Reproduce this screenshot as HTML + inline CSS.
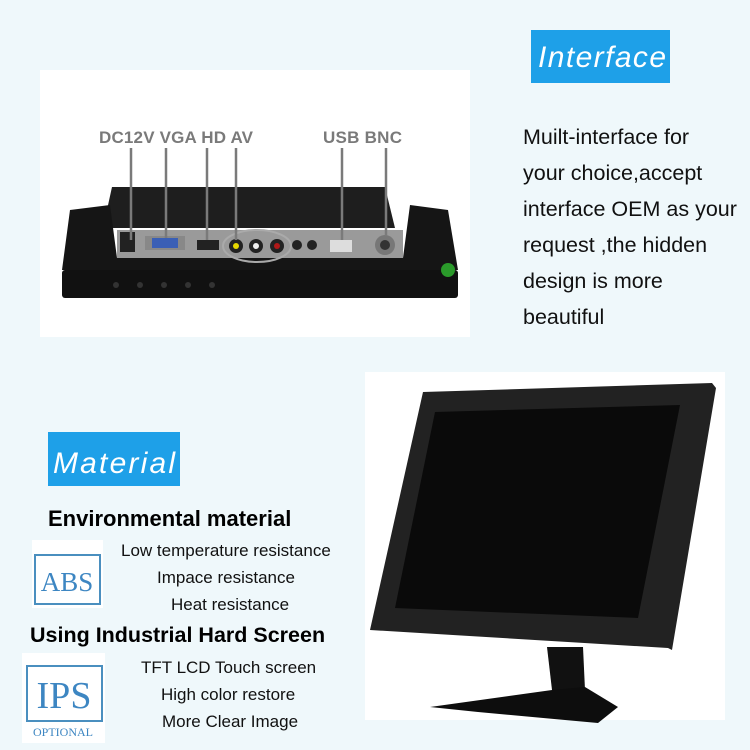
<!DOCTYPE html>
<html><head><meta charset="utf-8"><style>
body{margin:0;width:750px;height:750px;background:#eff8fb;position:relative;overflow:hidden;font-family:"Liberation Sans",sans-serif}
.a{position:absolute;white-space:nowrap}
</style></head><body>
<svg class="a" style="left:0;top:0" width="750" height="750">
<rect x="40" y="70" width="430" height="267" fill="#fff"/>
<rect x="365" y="372" width="360" height="348" fill="#fff"/>
<!-- back monitor -->
<polygon points="112,187 385,187 395,228 103,228" fill="#1e1e1e"/>
<polygon points="62,270 70,210 110,205 117,258 403,258 410,205 448,210 458,270" fill="#151515"/>
<rect x="117" y="230" width="286" height="28" fill="#9a9a9a"/>
<rect x="62" y="270" width="396" height="28" rx="3" fill="#111"/>
<rect x="120" y="232" width="15" height="20" fill="#222"/>
<rect x="145" y="236" width="40" height="14" fill="#888"/><rect x="152" y="238" width="26" height="10" fill="#3a5fb5"/>
<rect x="197" y="240" width="22" height="10" fill="#222"/>
<ellipse cx="257" cy="246" rx="34" ry="16" fill="none" stroke="#aaa" stroke-width="2"/>
<circle cx="236" cy="246" r="7" fill="#222"/><circle cx="236" cy="246" r="3" fill="#e6d800"/>
<circle cx="256" cy="246" r="7" fill="#222"/><circle cx="256" cy="246" r="3" fill="#eee"/>
<circle cx="277" cy="246" r="7" fill="#222"/><circle cx="277" cy="246" r="3" fill="#b01818"/>
<circle cx="297" cy="245" r="5" fill="#222"/><circle cx="312" cy="245" r="5" fill="#222"/>
<rect x="330" y="240" width="22" height="12" fill="#ddd"/>
<circle cx="385" cy="245" r="10" fill="#777"/><circle cx="385" cy="245" r="5" fill="#333"/>
<circle cx="448" cy="270" r="7" fill="#2a9a2a"/>
<g fill="#333"><circle cx="116" cy="285" r="3"/><circle cx="140" cy="285" r="3"/><circle cx="164" cy="285" r="3"/><circle cx="188" cy="285" r="3"/><circle cx="212" cy="285" r="3"/></g>
<g stroke="#7a7a7a" stroke-width="2.5">
<line x1="131" y1="148" x2="131" y2="240"/><line x1="166" y1="148" x2="166" y2="238"/>
<line x1="207" y1="148" x2="207" y2="240"/><line x1="236" y1="148" x2="236" y2="240"/>
<line x1="342" y1="148" x2="342" y2="240"/><line x1="386" y1="148" x2="386" y2="236"/>
</g>
<g font-family="Liberation Sans" font-weight="bold" font-size="17" fill="#7a7a7a">
<text x="99" y="143" textLength="154">DC12V VGA HD AV</text><text x="323" y="143" textLength="79">USB  BNC</text>
</g>
<!-- front monitor -->
<polygon points="423,392 712,383 716,388 672,650 668,648 370,630" fill="#222"/>
<polygon points="435,412 680,405 638,618 395,608" fill="#0a0a0a"/>
<polygon points="547,647 583,647 585,690 552,690" fill="#111"/>
<polygon points="430,707 552,690 585,687 618,707 598,723 565,720 478,712" fill="#0d0d0d"/>
<!-- boxes -->
<rect x="531" y="30" width="139" height="53" fill="#1ea0e8"/>
<rect x="48" y="432" width="132" height="54" fill="#1ea0e8"/>
<rect x="32" y="540" width="71" height="68" fill="#fff"/>
<rect x="35" y="555" width="65" height="49" fill="none" stroke="#4a8fbf" stroke-width="2"/>
<rect x="22" y="653" width="83" height="90" fill="#fff"/>
<rect x="27" y="666" width="75" height="55" fill="none" stroke="#4a8fbf" stroke-width="2"/>
<g font-family="Liberation Serif" fill="#3d86c2">
<text x="67" y="591" font-size="27" text-anchor="middle">ABS</text>
<text x="64" y="708" font-size="38" text-anchor="middle">IPS</text>
<text x="63" y="736" font-size="12" text-anchor="middle">OPTIONAL</text>
<text x="538" y="67" font-family="Liberation Sans" font-style="italic" font-size="30" fill="#fff" textLength="128">Interface</text>
<text x="53" y="473" font-family="Liberation Sans" font-style="italic" font-size="30" fill="#fff" textLength="122">Material</text>
</g>
</svg>
<div class="a" style="left:523px;top:119px;font-size:21.5px;line-height:36px;color:#111">Muilt-interface for<br>your choice,accept<br>interface OEM as your<br>request ,the hidden<br>design is more<br>beautiful</div>
<div class="a" style="left:48px;top:506px;font-size:22px;font-weight:bold;color:#000">Environmental material</div>
<div class="a" style="left:30px;top:623px;font-size:21.5px;font-weight:bold;color:#000">Using Industrial Hard Screen</div>
<div class="a" style="left:121px;top:541px;font-size:17px;color:#111">Low temperature resistance</div>
<div class="a" style="left:157px;top:568px;font-size:17px;color:#111">Impace resistance</div>
<div class="a" style="left:171px;top:595px;font-size:17px;color:#111">Heat resistance</div>
<div class="a" style="left:141px;top:658px;font-size:17px;color:#111">TFT LCD Touch screen</div>
<div class="a" style="left:161px;top:685px;font-size:17px;color:#111">High color restore</div>
<div class="a" style="left:162px;top:712px;font-size:17px;color:#111">More Clear Image</div>
</body></html>
